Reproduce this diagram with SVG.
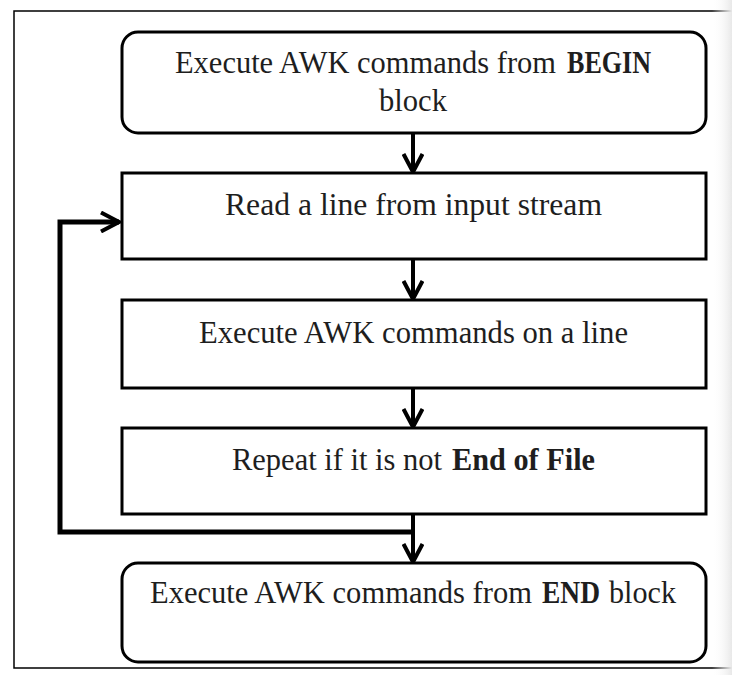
<svg xmlns="http://www.w3.org/2000/svg" width="732" height="675" viewBox="0 0 732 675">
  <style>
    .box { fill: #ffffff; stroke: #000000; stroke-width: 3; }
    .lbl { font-family: "Liberation Serif", "DejaVu Serif", serif; font-size: 31px; fill: #1e1e1e; }
    .b { font-weight: bold; }
    .conn { fill: none; stroke: #000000; stroke-width: 4; }
    .loop { fill: none; stroke: #000000; stroke-width: 5; }
    .frame { stroke: #000000; stroke-width: 1.5; fill: none; }
  </style>
  <defs>
    <marker id="arrow" viewBox="0 0 22 22" refX="20" refY="11" markerWidth="22" markerHeight="22" markerUnits="userSpaceOnUse" orient="auto">
      <path d="M2,1.5 L20,11 L2,20.5" fill="none" stroke="#000000" stroke-width="4" stroke-linejoin="miter"/>
    </marker>
    <linearGradient id="edge" x1="0" y1="0" x2="1" y2="0">
      <stop offset="0" stop-color="#ffffff" stop-opacity="0"/>
      <stop offset="1" stop-color="#e8e8e8"/>
    </linearGradient>
  </defs>
  <rect x="0" y="0" width="732" height="675" fill="#ffffff"/>
  <g id="frame">
    <path class="frame" d="M732,11 H14 V668 H732"/>
    <rect x="712" y="0" width="20" height="675" fill="url(#edge)"/>
  </g>
  <g id="connectors">
    <path class="conn" d="M413,133 V172" marker-end="url(#arrow)"/>
    <path class="conn" d="M413,259 V299" marker-end="url(#arrow)"/>
    <path class="conn" d="M413,388 V427" marker-end="url(#arrow)"/>
    <path class="conn" d="M413,514 V562" marker-end="url(#arrow)"/>
    <path class="loop" d="M413,532 H60 V222 H119" marker-end="url(#arrow)"/>
  </g>
  <g id="begin">
    <rect class="box" x="122" y="32" width="584" height="101" rx="16" ry="16"/>
    <text class="lbl" x="175" y="73" textLength="381" lengthAdjust="spacingAndGlyphs">Execute AWK commands from</text>
    <text class="lbl b" x="567" y="73" textLength="84" lengthAdjust="spacingAndGlyphs">BEGIN</text>
    <text class="lbl" x="413" y="111" text-anchor="middle" textLength="68" lengthAdjust="spacingAndGlyphs">block</text>
  </g>
  <g id="read">
    <rect class="box" x="122" y="173" width="584" height="86"/>
    <text class="lbl" x="225" y="215" textLength="377" lengthAdjust="spacingAndGlyphs">Read a line from input stream</text>
  </g>
  <g id="execute">
    <rect class="box" x="122" y="300" width="584" height="88"/>
    <text class="lbl" x="199" y="343" textLength="429" lengthAdjust="spacingAndGlyphs">Execute AWK commands on a line</text>
  </g>
  <g id="repeat">
    <rect class="box" x="122" y="428" width="584" height="86"/>
    <text class="lbl" x="232" y="470" textLength="210" lengthAdjust="spacingAndGlyphs">Repeat if it is not</text>
    <text class="lbl b" x="452" y="470" textLength="143" lengthAdjust="spacingAndGlyphs">End of File</text>
  </g>
  <g id="end">
    <rect class="box" x="122" y="563" width="584" height="99" rx="16" ry="16"/>
    <text class="lbl" x="150" y="603" textLength="382" lengthAdjust="spacingAndGlyphs">Execute AWK commands from</text>
    <text class="lbl b" x="542" y="603" textLength="58" lengthAdjust="spacingAndGlyphs">END</text>
    <text class="lbl" x="609" y="603" textLength="67" lengthAdjust="spacingAndGlyphs">block</text>
  </g>
</svg>
